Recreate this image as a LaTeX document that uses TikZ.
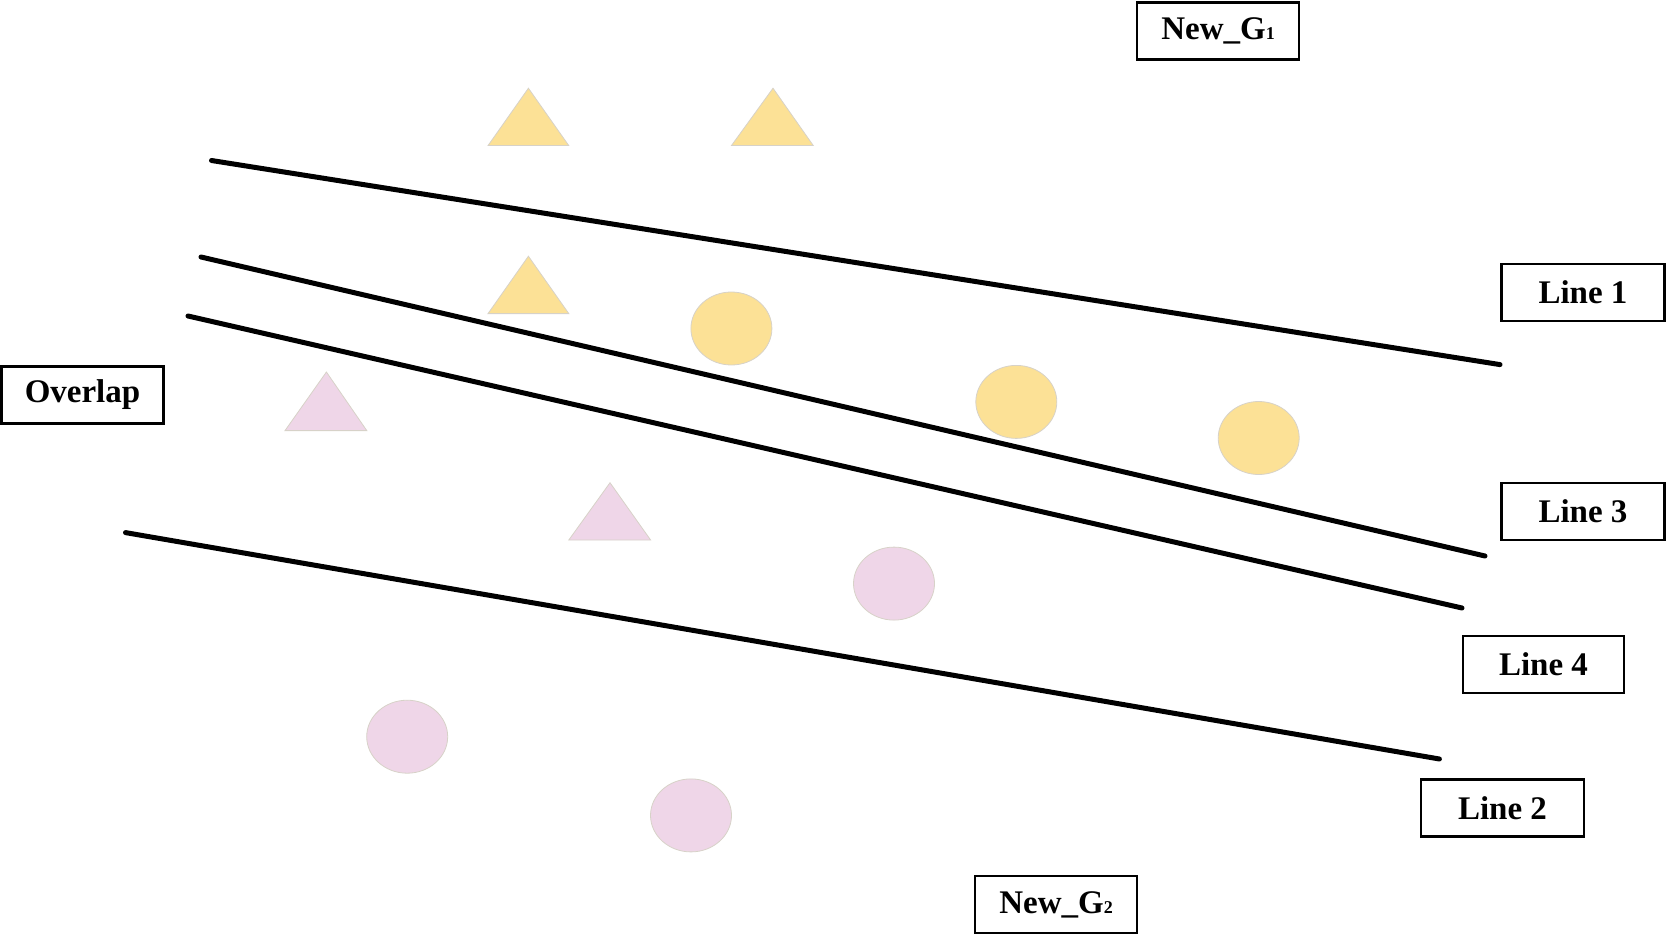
\documentclass[tikz,border=0pt]{standalone}
\usepackage{fontspec}
\usetikzlibrary{shapes.geometric}
\setmainfont{Liberation Serif}
\definecolor{ylw}{RGB}{252,225,150}
\definecolor{pnk}{RGB}{239,214,232}
\definecolor{edg}{RGB}{215,210,200}
\newcommand{\smallsub}[1]{{\fontsize{18}{18}\selectfont #1}}
\begin{document}
\begin{tikzpicture}[x=1pt,y=-1pt,
  lbl/.style={draw=black,line width=2.5pt,fill=white,font=\fontsize{33}{38}\selectfont\bfseries,minimum height=57pt,inner sep=0pt},
  sep/.style={line width=5pt,line cap=round},
  ytri/.style={fill=ylw,draw=edg,line width=0.8pt},
  ptri/.style={fill=pnk,draw=edg,line width=0.8pt},
  yell/.style={ellipse,fill=ylw,draw=edg,line width=0.8pt,minimum width=81pt,minimum height=73pt,inner sep=0pt},
  pell/.style={ellipse,fill=pnk,draw=edg,line width=0.8pt,minimum width=81pt,minimum height=73pt,inner sep=0pt}]
\useasboundingbox (0,0) rectangle (1667,936);
% separating lines
\coordinate (l1a) at (211.5,160.5); \coordinate (l1b) at (1500,364.6);
\coordinate (l3a) at (201,257); \coordinate (l3b) at (1485,556);
\coordinate (l4a) at (188,316); \coordinate (l4b) at (1462,608);
\coordinate (l2a) at (125.5,532.6); \coordinate (l2b) at (1439.4,759);
\draw[sep] (l1a) -- (l1b);
\draw[sep] (l3a) -- (l3b);
\draw[sep] (l4a) -- (l4b);
\draw[sep] (l2a) -- (l2b);
% triangles
\draw[ytri] (528.4,88.2) -- (568.8,145.6) -- (488,145.6) -- cycle;
\draw[ytri] (773,88.2) -- (813.3,145.6) -- (731.4,145.6) -- cycle;
\draw[ytri] (528.4,256.2) -- (568.8,313.6) -- (488,313.6) -- cycle;
\draw[ptri] (326.4,372) -- (366.8,430.6) -- (285,430.6) -- cycle;
\draw[ptri] (610,482.7) -- (650.6,540) -- (568.8,540) -- cycle;
% circles
\node[yell] (y1) at (731.4,328.5) {};
\node[yell] (y2) at (1016.3,401.9) {};
\node[yell] (y3) at (1258.7,438) {};
\node[pell] (p1) at (894,583.6) {};
\node[pell] (p2) at (407.2,736.7) {};
\node[pell] (p3) at (691,815.4) {};
% labels
\node[lbl,minimum width=162pt] (g1) at (1218,31) {New\_G\smallsub{1}};
\node[lbl,minimum width=163pt] (line1) at (1583,292.5) {Line 1};
\node[lbl,minimum width=163pt] (line3) at (1583,511.5) {Line 3};
\node[lbl,minimum width=161pt] (line4) at (1543.5,664.5) {Line 4};
\node[lbl,minimum width=163pt] (line2) at (1502.5,808) {Line 2};
\node[lbl,minimum width=162pt] (ov) at (82.5,395) {Overlap};
\node[lbl,minimum width=162pt] (g2) at (1056,904.5) {New\_G\smallsub{2}};
\end{tikzpicture}
\end{document}
